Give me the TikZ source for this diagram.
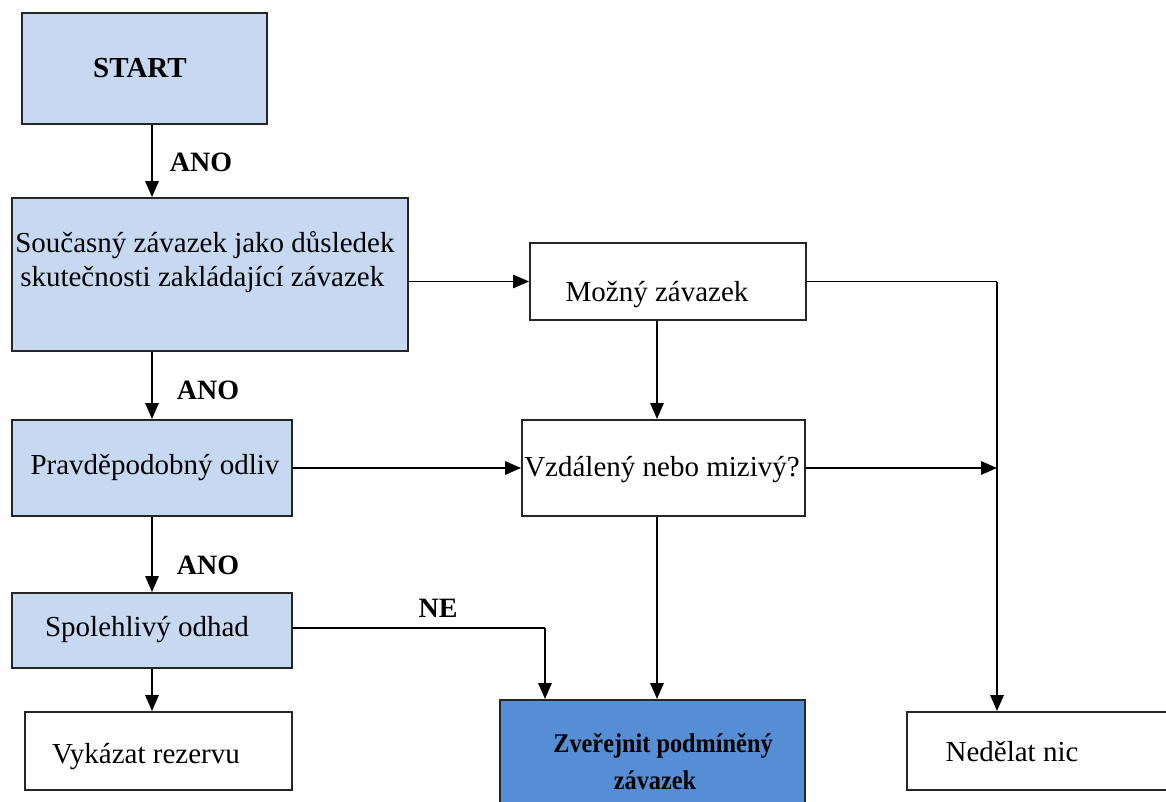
\documentclass[tikz,border=0pt]{standalone}
\usepackage{fontspec}
\setmainfont{Liberation Serif}
\newfontfamily\condfont[FakeStretch=0.9]{Liberation Serif}
\usetikzlibrary{arrows.meta}
\definecolor{lightblue}{RGB}{198,217,240}
\definecolor{midblue}{RGB}{85,142,213}
\begin{document}
\begin{tikzpicture}[x=0.75pt,y=-0.75pt,
  every node/.style={font=\fontsize{21.75}{26}\selectfont},
  box/.style 2 args={draw=black!85, line width=1.4pt, inner sep=0pt, minimum width=#1*0.75pt, minimum height=#2*0.75pt},
  lb/.style={fill=lightblue},
  db/.style={fill=midblue},
  txt/.style={inner sep=0pt},
  lab/.style={inner sep=0pt, font=\fontsize{21}{25}\selectfont\bfseries},
  arr/.style={line width=1.4pt, -{Triangle[length=12pt,width=10pt]}},
  ln/.style={line width=1.4pt}
]
\useasboundingbox (0,0) rectangle (1166,802);
\begin{scope}
\clip (0,0) rectangle (1166,802);
% boxes
\node[box={245}{111}, lb] (start) at (144.5,68.5) {};
\node[txt, font=\fontsize{21.75}{26}\selectfont\bfseries] (starttxt) at (140,68) {START};
\node[box={396}{153}, lb] (cur) at (210,274.5) {};
\node[txt, anchor=west] (cur1) at (15,245) {Současný závazek jako důsledek};
\node[txt, anchor=west] (cur2) at (20,279) {skutečnosti zakládající závazek};
\node[box={276}{77}] (mozny) at (668,281.5) {};
\node[txt] (moznytxt) at (657,295) {Možný závazek};
\node[box={280}{96}, lb] (prav) at (152,468) {};
\node[txt] (pravtxt) at (155,468) {Pravděpodobný odliv};
\node[box={283}{96}] (vzd) at (663.5,468) {};
\node[txt] (vzdtxt) at (662,470) {Vzdálený nebo mizivý?};
\node[box={280}{75}, lb] (spol) at (152,630.5) {};
\node[txt] (spoltxt) at (147,630) {Spolehlivý odhad};
\node[box={267}{78}] (vyk) at (158.5,751) {};
\node[txt] (vyktxt) at (146,757) {Vykázat rezervu};
\node[box={305}{120}, db] (zve) at (652.5,760) {};
\node[txt, font=\fontsize{20.25}{24}\condfont\bfseries] (zve1) at (663,746) {Zveřejnit podmíněný};
\node[txt, font=\fontsize{20.25}{24}\condfont\bfseries] (zve2) at (655,780) {závazek};
\node[box={268}{78}] (ned) at (1041,751) {};
\node[txt] (nedtxt) at (1012,752) {Nedělat nic};
\end{scope}
% helper coordinates
\coordinate (jx) at (997,0);
\coordinate (mx) at (657,0);
\coordinate (nx) at (545,0);
% connectors
\draw[arr] (start.south -| prav.north) -- (cur.north -| prav.north);
\draw[arr] (cur.south -| prav.north) -- (prav.north);
\draw[arr] (prav.south) -- (spol.north);
\draw[arr] (spol.south) -- (vyk.north -| spol.south);
\draw[arr] (cur.east |- mozny.west) -- (mozny.west);
\draw[ln] (mozny.east) -- (mozny.east -| jx) coordinate (j1);
\draw[arr] (j1) -- (ned.north -| jx);
\draw[arr] (mozny.south -| mx) -- (vzd.north -| mx);
\draw[arr] (prav.east) -- (vzd.west);
\draw[arr] (vzd.east) -- (vzd.east -| jx);
\draw[arr] (vzd.south -| mx) -- (zve.north -| mx);
\draw[ln] (spol.east) ++(0,-2.5) coordinate (s1) -- (s1 -| nx) coordinate (s2);
\draw[arr] (s2) -- (zve.north -| nx);
% labels
\node[lab] (ano1) at (201,162) {ANO};
\node[lab] (ano2) at (208,390) {ANO};
\node[lab] (ano3) at (208,565) {ANO};
\node[lab] (ne) at (438,608) {NE};
\end{tikzpicture}
\end{document}
